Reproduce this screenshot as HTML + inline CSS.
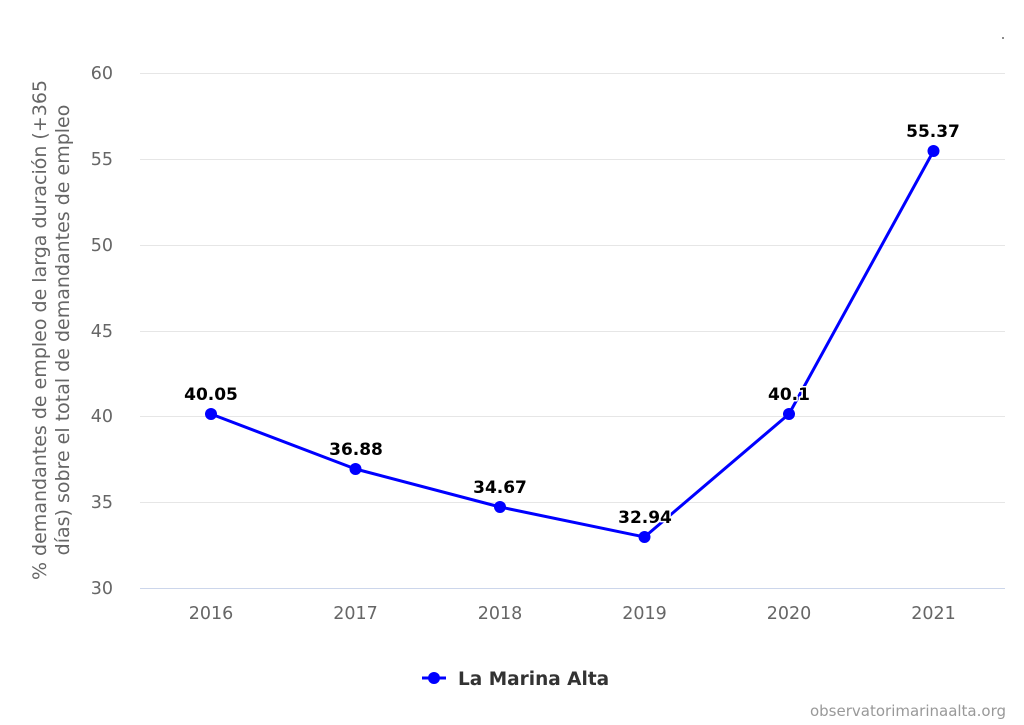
<!DOCTYPE html>
<html><head><meta charset="utf-8"><style>
body{margin:0;background:#fff;}
svg{display:block;font-family:"DejaVu Sans","Liberation Sans",sans-serif;}
</style></head><body>
<svg width="1024" height="725" viewBox="0 0 1024 725" xmlns="http://www.w3.org/2000/svg">
<rect width="1024" height="725" fill="#fff"/>
<g stroke="#e6e6e6" stroke-width="1">
<line x1="140" x2="1005" y1="73.5" y2="73.5"/>
<line x1="140" x2="1005" y1="159.5" y2="159.5"/>
<line x1="140" x2="1005" y1="245.5" y2="245.5"/>
<line x1="140" x2="1005" y1="331.5" y2="331.5"/>
<line x1="140" x2="1005" y1="416.5" y2="416.5"/>
<line x1="140" x2="1005" y1="502.5" y2="502.5"/>
</g>
<line x1="140" x2="1005" y1="588.5" y2="588.5" stroke="#ccd6eb"/>
<g fill="#666" font-size="17.5" text-anchor="end">
<text x="113" y="79">60</text><text x="113" y="165">55</text><text x="113" y="251">50</text>
<text x="113" y="337">45</text><text x="113" y="422">40</text><text x="113" y="508">35</text><text x="113" y="594">30</text>
</g>
<g fill="#666" font-size="17.5" text-anchor="middle">
<text x="211" y="619">2016</text><text x="355.5" y="619">2017</text><text x="500" y="619">2018</text>
<text x="644.5" y="619">2019</text><text x="789" y="619">2020</text><text x="933.5" y="619">2021</text>
</g>
<g transform="translate(46,330) rotate(-90)" fill="#666" font-size="19" text-anchor="middle">
<text x="0" y="0">% demandantes de empleo de larga duración (+365</text>
<text x="0" y="23">días) sobre el total de demandantes de empleo</text>
</g>
<polyline points="211,414 355.5,469 500,507 644.5,537 789,414 933.5,151" fill="none" stroke="#0000ff" stroke-width="3" stroke-linejoin="round"/>
<g fill="#0000ff">
<circle cx="211" cy="414" r="6"/><circle cx="355.5" cy="469" r="6"/><circle cx="500" cy="507" r="6"/>
<circle cx="644.5" cy="537" r="6"/><circle cx="789" cy="414" r="6"/><circle cx="933.5" cy="151" r="6"/>
</g>
<g font-size="17" font-weight="bold" fill="#000" text-anchor="middle" stroke="#fff" stroke-width="3" paint-order="stroke" stroke-linejoin="round">
<text x="211" y="400">40.05</text><text x="356" y="455">36.88</text><text x="500" y="493">34.67</text>
<text x="645" y="523">32.94</text><text x="789" y="400">40.1</text><text x="933" y="137">55.37</text>
</g>
<line x1="422" x2="446" y1="678" y2="678" stroke="#0000ff" stroke-width="3"/>
<circle cx="434" cy="678" r="6" fill="#0000ff"/>
<text x="458" y="685" font-size="18.5" font-weight="bold" fill="#333">La Marina Alta</text>
<text x="1006" y="716" font-size="15" fill="#999" text-anchor="end">observatorimarinaalta.org</text>
<circle cx="1003" cy="38" r="1" fill="#666"/>
</svg>
</body></html>
